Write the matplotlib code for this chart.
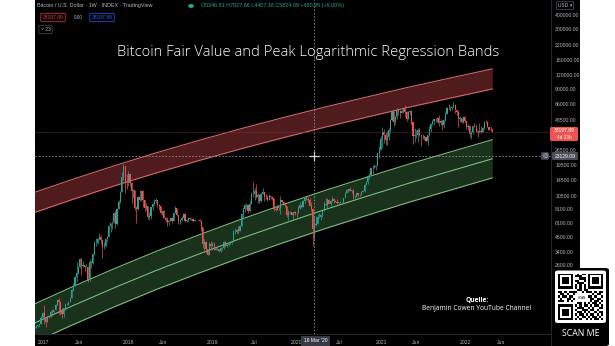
import numpy as np
import pandas as pd
import matplotlib
matplotlib.use("Agg")
import matplotlib.pyplot as plt
import matplotlib.dates as mdates
from matplotlib.patches import Rectangle, FancyBboxPatch
from matplotlib.lines import Line2D
from matplotlib.ticker import NullLocator

# ---------------- data ----------------
first_week = "2016-11-21"
first_open = 730.0

c2016 = [731, 766, 776, 790, 891, 998]
h2016 = [753, 780, 782, 800, 935, 1003]
l2016 = [728, 726, 752, 762, 788, 887]

c2017 = [908, 820, 922, 920, 1017,
         1000, 1050, 1170, 1275,
         1230, 1020, 966, 1090,
         1190, 1180, 1245, 1350,
         1560, 1720, 2050, 2210, 2520,
         2960, 2530, 2590, 2500,
         2510, 1915, 2750, 2730, 3230,
         4060, 4090, 4350, 4590,
         4330, 3700, 3790, 4370,
         4610, 5700, 6010, 6140, 7360,
         5950, 8050, 9300, 11300,
         15200, 19100, 13900, 13850]
h2017 = [1153, 910, 933, 930, 1042,
         1070, 1055, 1185, 1290,
         1330, 1250, 1085, 1100,
         1210, 1210, 1250, 1365,
         1600, 1800, 2100, 2760, 2560,
         2980, 2990, 2790, 2620,
         2650, 2540, 2950, 2800, 3290,
         4200, 4480, 4460, 4980,
         4720, 4380, 4130, 4400,
         4620, 5850, 6080, 6200, 7600,
         7880, 8100, 9700, 11500,
         17000, 19800, 19100, 16300]
l2017 = [800, 750, 820, 890, 915,
         930, 990, 1050, 1170,
         978, 950, 890, 920,
         1060, 1150, 1170, 1230,
         1345, 1550, 1700, 1850, 2150,
         2440, 2140, 2480, 2300,
         2480, 1840, 1900, 2430, 2650,
         3190, 3850, 3970, 4300,
         3980, 2980, 3560, 3700,
         4130, 4580, 5100, 5380, 6100,
         5520, 5850, 8000, 9000,
         11200, 14500, 11000, 12000]

c2018 = [16200, 13600, 11500, 11750, 8200,
         8100, 10300, 9600, 11500,
         9550, 8200, 8450, 6900,
         6950, 8350, 8900, 9350, 9650,
         8700, 8500, 7350, 7700,
         6750, 6450, 6150, 6350,
         6750, 6350, 7400, 8200, 7050,
         6300, 6400, 6700, 7300,
         6250, 6500, 6700, 6600,
         6600, 6300, 6500, 6450, 6400,
         6350, 5600, 4000, 4100,
         3600, 3200, 4000, 3850, 4000]
h2018 = [17250, 16300, 13900, 12000, 11800,
         8600, 10400, 11800, 11600,
         11700, 9900, 9100, 8500,
         7500, 8400, 9000, 9750, 9950,
         9700, 8850, 8500, 7800,
         7800, 6850, 6800, 6450,
         6800, 6850, 7600, 8500, 8250,
         7150, 6600, 6950, 7400,
         7400, 6600, 6800, 6800,
         6700, 6650, 6600, 6500, 6450,
         6550, 6400, 5600, 4400,
         4200, 3600, 4150, 4200, 4100]
l2018 = [12800, 12800, 9050, 10000, 7800,
         6000, 7900, 9500, 9400,
         8400, 7700, 7900, 6600,
         6450, 6600, 7900, 8700, 9100,
         8400, 7900, 7300, 7050,
         6700, 6200, 5750, 5800,
         6250, 6100, 6300, 7350, 6950,
         5900, 5900, 6300, 6650,
         6150, 6150, 6200, 6450,
         6500, 6150, 6250, 6400, 6300,
         6300, 5200, 3650, 3500,
         3300, 3150, 3200, 3550, 3700]

c2019 = [3550, 3600, 3560, 3480,
         3650, 3650, 4100, 3850,
         3900, 4000, 4050, 4100,
         5100, 5100, 5300, 5150, 5750,
         7200, 8100, 8700, 8700,
         7700, 8900, 10850, 10800,
         11450, 10200, 10550, 9500, 10800,
         11400, 10300, 10150, 9600,
         10400, 10300, 10000, 8050, 7850,
         8300, 8200, 9550, 9200,
         8800, 8500, 7050, 7550,
         7500, 7100, 7500, 7400, 7350]
h2019 = [4100, 3700, 3650, 3560,
         3700, 3700, 4200, 4200,
         3950, 4050, 4100, 4150,
         5300, 5450, 5350, 5650, 5850,
         7400, 8400, 8900, 9100,
         8800, 9400, 11200, 13800,
         12200, 13200, 11100, 10800, 11100,
         12300, 11400, 10950, 10600,
         10900, 10450, 10400, 10100, 8500,
         8800, 8400, 10500, 9500,
         9500, 8800, 8600, 7800,
         7700, 7550, 7600, 7650, 7500]
l2019 = [3500, 3500, 3500, 3350,
         3400, 3550, 3600, 3700,
         3700, 3850, 3950, 3950,
         4100, 4900, 5000, 4900, 5150,
         5700, 6700, 7500, 8000,
         7450, 7600, 8900, 10300,
         9700, 10100, 9100, 9100, 9200,
         10800, 9500, 9900, 9350,
         9600, 9900, 9600, 7700, 7750,
         7800, 7900, 7300, 9000,
         8700, 8400, 6800, 6500,
         7250, 7050, 6450, 7050, 6900]

c2020 = [8200, 8700, 8350, 9350,
         10150, 9900, 9700, 8550,
         8030, 5347, 5824, 5880, 6800,
         6900, 7100, 7700, 8900,
         8700, 9700, 8900, 9450,
         9750, 9350, 9300, 9000, 9250,
         9250, 9200, 9950, 11100,
         11700, 11900, 11650, 11700, 10300,
         10330, 11100, 10750, 10650,
         11400, 11500, 13100, 13800,
         15500, 16000, 18400, 18200, 18800,
         19200, 24700, 26500, 33000]
h2020 = [8450, 9200, 8750, 9550,
         10200, 10500, 10250, 9950,
         9200, 8150, 7028, 6950, 7200,
         7450, 7300, 7750, 9450,
         10000, 9950, 9850, 9700,
         10400, 9950, 9600, 9750, 9300,
         9450, 9250, 10000, 11400,
         11900, 12050, 12450, 11700, 12050,
         10600, 11150, 11000, 10950,
         11450, 11700, 13250, 14100,
         15950, 16500, 18800, 19450, 19900,
         19350, 24800, 28400, 34800]
l2020 = [7350, 8100, 8250, 8350,
         9150, 9650, 9300, 8450,
         7650, 3850, 4407, 5700, 5900,
         6700, 6500, 6800, 7650,
         8500, 8200, 8800, 8600,
         9300, 9150, 9250, 8850, 8950,
         9150, 9050, 9150, 9950,
         11100, 11250, 11550, 11100, 9900,
         9900, 10200, 10150, 10400,
         10550, 11250, 11400, 12950,
         13300, 14800, 15900, 16200, 18200,
         17600, 19050, 22300, 26100]

c2021 = [38200, 35800, 32300, 34300,
         39200, 48600, 57500, 46200,
         51000, 59000, 57500, 55800, 58200,
         60000, 56200, 49100, 57000,
         58300, 46400, 34700, 35700, 35800,
         39100, 35600, 34700, 35300,
         34250, 31800, 35400, 39900,
         44600, 47000, 48900, 48800, 49900,
         45000, 47300, 43200, 48200,
         54900, 61500, 61300, 61300,
         63300, 65500, 59000, 57200, 49400,
         50100, 46700, 50800, 47300]
h2021 = [41950, 40100, 37800, 38500,
         40900, 49700, 58300, 57500,
         52600, 61700, 60600, 58500, 60000,
         61300, 64800, 57500, 58400,
         59500, 59600, 46600, 40800, 39500,
         41300, 41300, 36000, 36600,
         35100, 34600, 35400, 42600,
         45300, 48100, 49400, 50500, 51000,
         52900, 48800, 48000, 49000,
         56500, 62900, 67000, 63700,
         64300, 69000, 66300, 59300, 59100,
         51900, 50100, 51800, 52000]
l2021 = [27700, 30400, 28900, 29200,
         32300, 37400, 47000, 43000,
         44900, 49300, 53400, 50400, 55500,
         55500, 51500, 47000, 48800,
         52900, 43800, 30000, 31200, 33400,
         31100, 34900, 28800, 32700,
         32100, 31100, 29300, 35200,
         37600, 43800, 43900, 46400, 46600,
         42800, 43400, 39600, 40800,
         47100, 53900, 59600, 58000,
         59400, 62300, 55600, 53300, 42000,
         46800, 45500, 45600, 45700]

c2022 = [41800, 43100, 36300, 37900, 42400,
         42100, 38400, 37700, 38400,
         37800, 41300, 46800, 46400,
         42150, 39700, 39450, 38197.89]
h2022 = [47600, 44400, 43500, 38900, 42500,
         45800, 44500, 39800, 45400,
         42400, 42300, 46900, 48200,
         47700, 41600, 42900, 40800]
l2022 = [40600, 39700, 34000, 32900, 36300,
         41700, 37900, 34300, 37400,
         37300, 37600, 40500, 45200,
         42000, 39200, 39000, 37900]

band_dates = ["2016-11-21", "2017-05-01", "2017-11-01", "2018-05-01", "2018-11-01", "2019-05-01",
              "2019-11-01", "2020-05-01", "2020-11-01", "2021-05-01", "2021-11-01", "2022-04-25"]
green_upper = [1186, 1667, 2415, 3420, 4757, 6502, 8770, 11670, 15310, 19900, 25580, 32440]
green_mid = [807, 1135, 1644, 2328, 3238, 4426, 5970, 7943, 10420, 13550, 17410, 22080]
green_lower = [549, 773, 1119, 1585, 2204, 3013, 4064, 5407, 7093, 9224, 11850, 15030]
red_upper = [11220, 14520, 19190, 24890, 31920, 40360, 50580, 62660, 76910, 93760, 113200, 135200]
red_lower = [7482, 9683, 12790, 16600, 21280, 26920, 33730, 41780, 51290, 62520, 75510, 90160]

ytick_values = [400000, 300000, 220000, 160000, 120000, 90000, 66000, 48500, 26500,
                19500, 14500, 10500, 8100, 6100, 4600, 3400, 2600]
xtick_dates = ["2017-01-01", "2017-06-01", "2018-01-01", "2018-06-01", "2019-01-01", "2019-07-01",
               "2020-01-01", "2020-07-01", "2021-01-01", "2021-06-01", "2022-01-01", "2022-06-01"]
xtick_labels = ["2017", "Jun", "2018", "Jun", "2019", "Jul", "2020", "Jul", "2021", "Jun", "2022", "Jun"]

last_price = 38197.89
cross_price = 23129.09
cross_date = "2020-03-16"

title = "Bitcoin Fair Value and Peak Logarithmic Regression Bands"
header = "Bitcoin / U.S. Dollar \u00b7 1W \u00b7 INDEX \u00b7 TradingView"
ohlc_text = "O5346.81 H7027.66 L4407.18 C5824.09 +480.95 (+9.00%)"

qr_rows = [
    "111111100101101111111",
    "100000101110001000001",
    "101110100011101011101",
    "101110101100101011101",
    "101110100111001011101",
    "100000101010101000001",
    "111111101010101111111",
    "000000000110110000000",
    "110101111001011101011",
    "011010010110110010110",
    "101101100011101101001",
    "010011011100010110110",
    "111010101011100101101",
    "000000000110101011010",
    "111111101010110101101",
    "100000100111001010011",
    "101110101001110110100",
    "101110100110101001011",
    "101110101011010110101",
    "100000100101101011010",
    "111111101010010101101",
]

# ---------------- figure ----------------
W, H, DPI = 615, 346, 100
plt.rcParams["font.family"] = ["Liberation Sans", "DejaVu Sans"]
fig = plt.figure(figsize=(W / DPI, H / DPI), dpi=DPI, facecolor="white")


def fx(px):
    return px / W


def fy(py):
    return 1 - py / H


fig.add_artist(Rectangle((fx(35), 0), fx(580) - fx(35), 1, transform=fig.transFigure,
                         facecolor="black", edgecolor="none", zorder=0))

ax = fig.add_axes([fx(35), fy(334), fx(551) - fx(35), fy(0) - fy(334)])
ax.set_facecolor("black")
ax.set_yscale("log")
ax.set_ylim(647.7, 541000)
x2017 = mdates.date2num(pd.Timestamp("2017-01-01"))
days_per_px = 365.25 / 84.4
ax.set_xlim(x2017 - 9 * days_per_px, x2017 + 507 * days_per_px)
for s in ax.spines.values():
    s.set_visible(False)

# bands
bx = mdates.date2num(pd.to_datetime(band_dates))
ax.fill_between(bx, red_lower, red_upper, color="#4f1b1d", lw=0, zorder=1)
ax.plot(bx, red_upper, color="#d96b6b", lw=0.75, zorder=2)
ax.plot(bx, red_lower, color="#d96b6b", lw=0.75, zorder=2)
ax.fill_between(bx, green_lower, green_upper, color="#1a321c", lw=0, zorder=1)
for g in (green_upper, green_mid, green_lower):
    ax.plot(bx, g, color="#7fc27f", lw=0.75, zorder=2)

# candles
close = np.array(c2016 + c2017 + c2018 + c2019 + c2020 + c2021 + c2022, dtype=float)
high = np.array(h2016 + h2017 + h2018 + h2019 + h2020 + h2021 + h2022, dtype=float)
low = np.array(l2016 + l2017 + l2018 + l2019 + l2020 + l2021 + l2022, dtype=float)
opens = np.concatenate([[first_open], close[:-1]])
high = np.maximum(high, np.maximum(opens, close))
low = np.minimum(low, np.minimum(opens, close))
dates = pd.date_range(first_week, periods=len(close), freq="7D")
xs = mdates.date2num(dates)
up = close >= opens
cols = np.where(up, "#26a69a", "#ef5350")
ax.vlines(xs, low, high, colors=cols, lw=0.5, zorder=3)
ax.bar(xs, np.abs(close - opens), bottom=np.minimum(opens, close), width=4.8,
       color=cols, lw=0, zorder=3)

# price line and crosshair
ax.axhline(last_price, color="#6e3538", lw=0.6, ls=(0, (1, 1)), zorder=4)
cx = mdates.date2num(pd.Timestamp(cross_date))
ax.axhline(cross_price, color="#8a8d96", lw=0.6, ls=(0, (2, 2)), zorder=4)
ax.axvline(cx, color="#8a8d96", lw=0.6, ls=(0, (2, 2)), zorder=4)
ax.plot([cx], [cross_price], marker="+", ms=7, mew=0.9, color="#d1d4dc", zorder=5)

# axes ticks
ax.yaxis.tick_right()
ax.set_yticks(ytick_values)
ax.set_yticklabels([f"{v:.2f}" for v in ytick_values])
ax.yaxis.set_minor_locator(NullLocator())
ax.tick_params(axis="y", length=0, pad=3, labelsize=3.7, labelcolor="#b2b5be")
ax.set_xticks(mdates.date2num(pd.to_datetime(xtick_dates)))
ax.set_xticklabels(xtick_labels)
ax.xaxis.set_minor_locator(NullLocator())
ax.tick_params(axis="x", length=0, pad=4, labelsize=3.7, labelcolor="#b2b5be")

# separators
fig.add_artist(Line2D([fx(551), fx(551)], [0, 1], transform=fig.transFigure, color="#2a2e39", lw=0.6))
fig.add_artist(Line2D([fx(35), fx(580)], [fy(334), fy(334)], transform=fig.transFigure,
                      color="#2a2e39", lw=0.6))

# title
fig.text(fx(308), fy(53), title, ha="center", va="center", color="white", fontsize=10.6,
         family=["Open Sans", "DejaVu Sans"], fontweight="light")

# header texts
fig.text(fx(37), fy(6), header, ha="left", va="center", color="#b2b5be", fontsize=3.9)
fig.add_artist(matplotlib.patches.Circle((fx(191), fy(6)), 0.0035, transform=fig.transFigure,
                                         color="#26a69a"))
fig.text(fx(201), fy(6), ohlc_text, ha="left", va="center", color="#26a69a", fontsize=3.9)
fig.text(fx(53), fy(17.5), f"{last_price:.2f}", ha="center", va="center", color="#f23645", fontsize=3.6,
         bbox=dict(boxstyle="round,pad=0.35,rounding_size=0.2", fc="black", ec="#f23645", lw=0.5))
fig.text(fx(78), fy(17.5), "0.00", ha="center", va="center", color="#b2b5be", fontsize=3.4)
fig.text(fx(102), fy(17.5), f"{last_price:.2f}", ha="center", va="center", color="#2962ff", fontsize=3.6,
         bbox=dict(boxstyle="round,pad=0.35,rounding_size=0.2", fc="black", ec="#2962ff", lw=0.5))
fig.text(fx(45.5), fy(29.5), "\u02c5 23", ha="center", va="center", color="#b2b5be", fontsize=3.6,
         bbox=dict(boxstyle="round,pad=0.35,rounding_size=0.2", fc="black", ec="#50535e", lw=0.5))

# right axis boxes
fig.add_artist(FancyBboxPatch((fx(550), fy(141)), fx(578) - fx(550), fy(127) - fy(141),
                              boxstyle="round,pad=0,rounding_size=0.003", transform=fig.transFigure,
                              fc="#f05252", ec="none", zorder=5))
fig.text(fx(564), fy(131), f"{last_price:.2f}", ha="center", va="center", color="white", fontsize=3.6, zorder=6)
fig.text(fx(564), fy(137.5), "4d 23h", ha="center", va="center", color="white", fontsize=3.4, zorder=6)
fig.add_artist(FancyBboxPatch((fx(552), fy(160)), fx(578) - fx(552), fy(152) - fy(160),
                              boxstyle="round,pad=0,rounding_size=0.003", transform=fig.transFigure,
                              fc="#4a4e59", ec="none", zorder=5))
fig.text(fx(565), fy(156), f"{cross_price:.2f}", ha="center", va="center", color="white", fontsize=3.6, zorder=6)
fig.text(fx(545), fy(156), "\u25ce", ha="center", va="center", color="#d1d4dc", fontsize=4.5, zorder=6,
         family="DejaVu Sans",
         bbox=dict(boxstyle="round,pad=0.2,rounding_size=0.2", fc="#4a4e59", ec="none"))
fig.text(fx(565), fy(5.5), "USD \u25be", ha="center", va="center", color="#b2b5be", fontsize=3.5,
         family="DejaVu Sans",
         bbox=dict(boxstyle="round,pad=0.3,rounding_size=0.2", fc="black", ec="#50535e", lw=0.5))

# bottom crosshair date label
fig.add_artist(Rectangle((fx(301), 0), fx(330) - fx(301), fy(335.5), transform=fig.transFigure,
                         fc="#363a45", ec="none", zorder=5))
fig.text(fx(315.5), fy(341), "16 Mar '20", ha="center", va="center", color="white", fontsize=3.6, zorder=6)

# source note
fig.text(fx(477), fy(300), "Quelle:", ha="center", va="center", color="white", fontsize=4.9,
         fontweight="bold", family=["Open Sans", "DejaVu Sans"])
fig.text(fx(477), fy(309), "Benjamin Cowen YouTube Channel", ha="center", va="center", color="white",
         fontsize=4.8, family=["Open Sans", "DejaVu Sans"])

# QR badge
fig.add_artist(FancyBboxPatch((fx(552), 0), fx(609) - fx(552), fy(268), transform=fig.transFigure,
                              boxstyle="round,pad=0,rounding_size=0.006", fc="black", ec="none", zorder=7))
fig.add_artist(FancyBboxPatch((fx(555), fy(323)), fx(606) - fx(555), fy(270.5) - fy(323),
                              transform=fig.transFigure, boxstyle="round,pad=0,rounding_size=0.005",
                              fc="white", ec="none", zorder=8))
qr = np.array([[int(ch) for ch in row] for row in qr_rows])
axq = fig.add_axes([fx(558), fy(320), fx(603) - fx(558), fy(273.5) - fy(320)], zorder=9)
axq.imshow(qr, cmap="gray_r", interpolation="nearest", aspect="auto", vmin=0, vmax=1)
axq.add_patch(Rectangle((7.5, 8.5), 6, 4, fc="white", ec="none"))
axq.text(10.5, 10.5, "SCAN", ha="center", va="center", fontsize=2.2, color="black")
axq.axis("off")
fig.text(fx(581), fy(333), "SCAN ME", ha="center", va="center", color="white", fontsize=6.3,
         family=["Open Sans", "DejaVu Sans"], zorder=10)

fig.savefig("out.png", dpi=DPI, facecolor="white")
